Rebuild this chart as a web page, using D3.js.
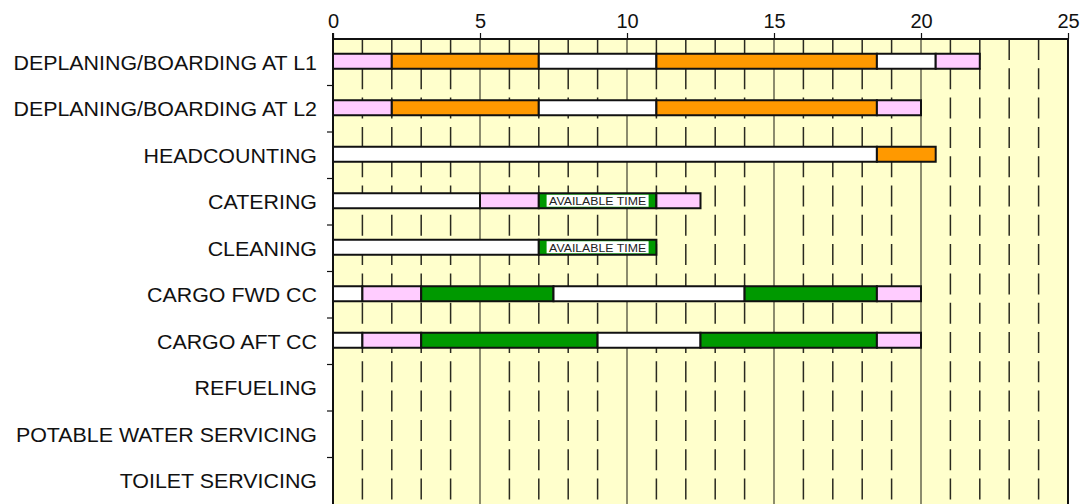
<!DOCTYPE html>
<html>
<head>
<meta charset="utf-8">
<script src="https://cdn.jsdelivr.net/npm/d3@7"></script>
<style>
  html, body { margin: 0; padding: 0; background: #fff; }
  svg { display: block; font-family: "Liberation Sans", Arial, Helvetica, sans-serif; }
</style>
</head>
<body>
<div id="chart"></div>
<script>
const categories = [
  'DEPLANING/BOARDING AT L1',
  'DEPLANING/BOARDING AT L2',
  'HEADCOUNTING',
  'CATERING',
  'CLEANING',
  'CARGO FWD CC',
  'CARGO AFT CC',
  'REFUELING',
  'POTABLE WATER SERVICING',
  'TOILET SERVICING'
];

// end of each segment (minutes), segments start where the previous one ends
const segmentEnds = [
  [2, 7, 11, 18.5, 20.5, 22],
  [2, 7, 11, 18.5, 20],
  [18.5, 20.5],
  [5, 7, 11, 12.5],
  [7, 11],
  [1, 3, 7.5, 14, 18.5, 20],
  [1, 3, 9, 12.5, 18.5, 20],
  [],
  [],
  []
];

const segmentTypes = [
  ['prep', 'pax', 'idle', 'pax', 'idle', 'prep'],
  ['prep', 'pax', 'idle', 'pax', 'prep'],
  ['idle', 'pax'],
  ['idle', 'prep', 'avail', 'prep'],
  ['idle', 'avail'],
  ['idle', 'prep', 'work', 'idle', 'work', 'prep'],
  ['idle', 'prep', 'work', 'idle', 'work', 'prep'],
  [],
  [],
  []
];

const xTicks = [0, 5, 10, 15, 20, 25];
const minorTicks = d3.range(1, 25).filter(v => v % 5 !== 0);
const availText = 'AVAILABLE TIME';

const colors = {
  prep: '#ffccff',
  pax: '#ff9900',
  idle: '#ffffff',
  work: '#009900',
  avail: '#009900'
};

const width = 1090;
const height = 504;
const margin = { top: 39, right: 22, bottom: 0, left: 333 };
const stretch = 1.07;

const svg = d3.select('#chart')
  .append('svg')
  .attr('width', width)
  .attr('height', height);

const x_sc = d3.scaleLinear()
  .domain([0, 25])
  .range([margin.left, width - margin.right]);

const y_sc = d3.scaleBand()
  .domain(categories)
  .range([margin.top, height - margin.bottom])
  .padding(0);

const bw = y_sc.bandwidth();

// plot background
svg.append('rect')
  .attr('x', x_sc(0))
  .attr('y', margin.top)
  .attr('width', x_sc(25) - x_sc(0))
  .attr('height', height - margin.top)
  .attr('fill', '#ffffcc');

// minor grid (dashed)
svg.append('g')
  .selectAll('line')
  .data(minorTicks)
  .join('line')
  .attr('x1', d => x_sc(d))
  .attr('x2', d => x_sc(d))
  .attr('y1', margin.top)
  .attr('y2', height)
  .attr('stroke', '#2a2a20')
  .attr('stroke-width', 1.5)
  .attr('stroke-dasharray', '21,8.3');

// major grid
svg.append('g')
  .selectAll('line')
  .data(xTicks.slice(1, -1))
  .join('line')
  .attr('x1', d => x_sc(d))
  .attr('x2', d => x_sc(d))
  .attr('y1', margin.top)
  .attr('y2', height)
  .attr('stroke', '#66664f')
  .attr('stroke-width', 1.5);

// bars
const rows = categories.map((c, i) => {
  let start = 0;
  const segs = segmentEnds[i].map((end, j) => {
    const s = { cat: c, start, end, type: segmentTypes[i][j] };
    start = end;
    return s;
  });
  return segs;
}).flat();

const barG = svg.append('g');

barG.selectAll('rect')
  .data(rows)
  .join('rect')
  .attr('x', d => x_sc(d.start))
  .attr('y', d => y_sc(d.cat) + bw / 2 - 8.5)
  .attr('width', d => x_sc(d.end) - x_sc(d.start))
  .attr('height', 15)
  .attr('fill', d => colors[d.type])
  .attr('stroke', '#111')
  .attr('stroke-width', 2);

const avail = rows.filter(d => d.type === 'avail');

const labG = barG.selectAll('g.avail')
  .data(avail)
  .join('g')
  .attr('class', 'avail')
  .attr('transform', d => `translate(${x_sc((d.start + d.end) / 2)},${y_sc(d.cat) + bw / 2 - 1})`);

labG.append('rect')
  .attr('x', -51)
  .attr('y', -6)
  .attr('width', 102)
  .attr('height', 12)
  .attr('fill', '#fff');

labG.append('text')
  .attr('text-anchor', 'middle')
  .attr('transform', `translate(0,4.3) scale(${stretch},1)`)
  .attr('font-size', 11.5)
  .attr('fill', '#222')
  .text(availText);

// frame: right border
svg.append('line')
  .attr('x1', x_sc(25))
  .attr('x2', x_sc(25))
  .attr('y1', margin.top)
  .attr('y2', height)
  .attr('stroke', '#111')
  .attr('stroke-width', 2);

// top axis
const xAxis = d3.axisTop(x_sc)
  .tickValues(xTicks)
  .tickSize(6)
  .tickPadding(5);

const xg = svg.append('g')
  .attr('transform', `translate(0,${margin.top})`)
  .call(xAxis);

xg.select('.domain').attr('stroke', '#111').attr('stroke-width', 2).attr('d', `M${x_sc(0)},0H${x_sc(25)}`);
xg.selectAll('.tick line').attr('stroke', '#111').attr('stroke-width', 1.2);
xg.selectAll('.tick text')
  .attr('font-size', 20)
  .attr('fill', '#111')
  .attr('font-family', '"Liberation Sans", Arial, sans-serif');

// left axis line and ticks at row boundaries
const bounds = categories.map(c => y_sc(c)).concat([height]);

svg.append('line')
  .attr('x1', x_sc(0))
  .attr('x2', x_sc(0))
  .attr('y1', margin.top - 6)
  .attr('y2', height)
  .attr('stroke', '#111')
  .attr('stroke-width', 2);

svg.append('g')
  .selectAll('line')
  .data(bounds.slice(1, -1))
  .join('line')
  .attr('x1', x_sc(0) - 6)
  .attr('x2', x_sc(0))
  .attr('y1', d => d)
  .attr('y2', d => d)
  .attr('stroke', '#111')
  .attr('stroke-width', 1.2);

// category labels
svg.append('g')
  .selectAll('text')
  .data(categories)
  .join('text')
  .attr('transform', d => `translate(317,${y_sc(d) + bw / 2 + 7.5}) scale(${stretch},1)`)
  .attr('text-anchor', 'end')
  .attr('font-size', 20)
  .attr('fill', '#111')
  .text(d => d);
</script>
</body>
</html>
